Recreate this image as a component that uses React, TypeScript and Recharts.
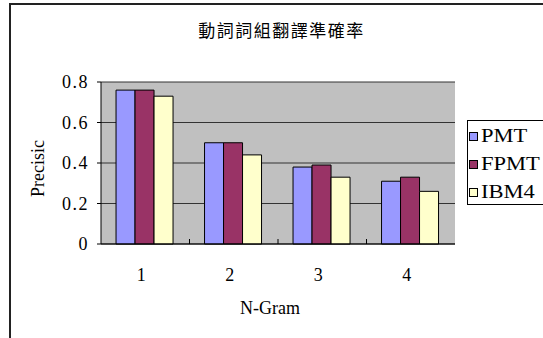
import { BarChart, Bar, XAxis, YAxis, CartesianGrid } from "recharts";

const NGRAMS = ["1", "2", "3", "4"];
const PMT = [0.76, 0.5, 0.38, 0.31];
const FPMT = [0.76, 0.5, 0.39, 0.33];
const IBM4 = [0.73, 0.44, 0.33, 0.26];
const Y_TICKS = [0, 0.2, 0.4, 0.6, 0.8];

const SERIES = [
  { key: "PMT", color: "#9999ff" },
  { key: "FPMT", color: "#993366" },
  { key: "IBM4", color: "#ffffcc" },
];

const data = NGRAMS.map((n, i) => ({ n, PMT: PMT[i], FPMT: FPMT[i], IBM4: IBM4[i] }));

const W = 543;
const H = 338;
const MARGIN = { top: 82, right: 88, bottom: 34, left: 0 };
const Y_WIDTH = 101;
const X_HEIGHT = 60;
const BAND = (W - MARGIN.left - Y_WIDTH - MARGIN.right) / NGRAMS.length;
const FONT = "Liberation Serif, Times New Roman, serif";

// category label plus a short inward tick on the left boundary of each band
const XTick = (props: any) => {
  const { x, y, payload, index } = props;
  return (
    <g>
      {index > 0 && (
        <line x1={x - BAND / 2} x2={x - BAND / 2} y1={y} y2={y - 5} stroke="#000" />
      )}
      <text x={x - 4} y={y + 37} textAnchor="middle" fontSize={18} fontFamily={FONT} fill="#000">
        {payload.value}
      </text>
    </g>
  );
};

const YTick = (props: any) => {
  const { x, y, payload } = props;
  return (
    <text x={x} y={y + 6} textAnchor="end" fontSize={18} fontFamily={FONT} fill="#000" letterSpacing={1.5}>
      {payload.value}
    </text>
  );
};

const LegendBox = () => (
  <div
    style={{
      position: "absolute",
      left: 467,
      top: 120,
      width: 80,
      height: 85,
      border: "1px solid #000",
      background: "#fff",
      boxSizing: "border-box",
      overflow: "hidden",
      fontFamily: FONT,
      fontSize: 18,
    }}
  >
    {SERIES.map((s, i) => (
      <div
        key={s.key}
        style={{ position: "absolute", left: 1, top: 5 + i * 28, display: "flex", alignItems: "center", whiteSpace: "nowrap" }}
      >
        <span style={{ width: 7, height: 7, background: s.color, border: "1px solid #000", marginRight: 3 }} />
        <span style={{ transform: "scaleX(1.25)", transformOrigin: "left" }}>{s.key}</span>
      </div>
    ))}
  </div>
);

export default function App() {
  return (
    <div style={{ position: "absolute", left: 0, top: 0, width: W, height: H, background: "#fff", overflow: "hidden" }}>
      <div
        style={{
          position: "absolute",
          left: 9,
          top: 3,
          width: W,
          height: H,
          borderTop: "2px solid #222",
          borderLeft: "2px solid #222",
        }}
      />
      <div
        style={{
          position: "absolute",
          left: 0,
          width: 563,
          top: 17,
          textAlign: "center",
          fontFamily: '"Noto Sans CJK TC", serif',
          fontSize: 17,
          letterSpacing: 1.5,
        }}
      >
        動詞詞組翻譯準確率
      </div>
      <BarChart
        width={W}
        height={H}
        data={data}
        margin={MARGIN}
        barCategoryGap="17%"
        barGap={0}
        style={{ position: "absolute", left: 0, top: 0 }}
      >
        <CartesianGrid fill="#c0c0c0" stroke="#333" vertical={false} />
        <XAxis
          dataKey="n"
          height={X_HEIGHT}
          tickLine={false}
          tickSize={0}
          tickMargin={0}
          axisLine={{ stroke: "#000" }}
          tick={XTick}
          label={{ value: "N-Gram", position: "insideBottom", offset: 0, dx: -8, dy: 10, fontSize: 18, fontFamily: FONT, fill: "#000" }}
        />
        <XAxis xAxisId="top" orientation="top" height={0} tick={false} tickLine={false} axisLine={{ stroke: "#808080" }} />
        <YAxis
          width={Y_WIDTH}
          domain={[0, 0.8]}
          ticks={Y_TICKS}
          tickSize={4}
          tickMargin={8}
          tickLine={{ stroke: "#000" }}
          axisLine={{ stroke: "#000" }}
          tick={YTick}
          label={{ value: "Precisic", angle: -90, position: "insideLeft", offset: 38, dy: 34, fontSize: 18, fontFamily: FONT, fill: "#000" }}
        />
        <YAxis yAxisId="right" orientation="right" width={0} domain={[0, 1]} tick={false} tickLine={false} axisLine={{ stroke: "#808080" }} />
        {SERIES.map((s) => (
          <Bar key={s.key} dataKey={s.key} fill={s.color} stroke="#000" strokeWidth={1} isAnimationActive={false} />
        ))}
      </BarChart>
      <LegendBox />
    </div>
  );
}
